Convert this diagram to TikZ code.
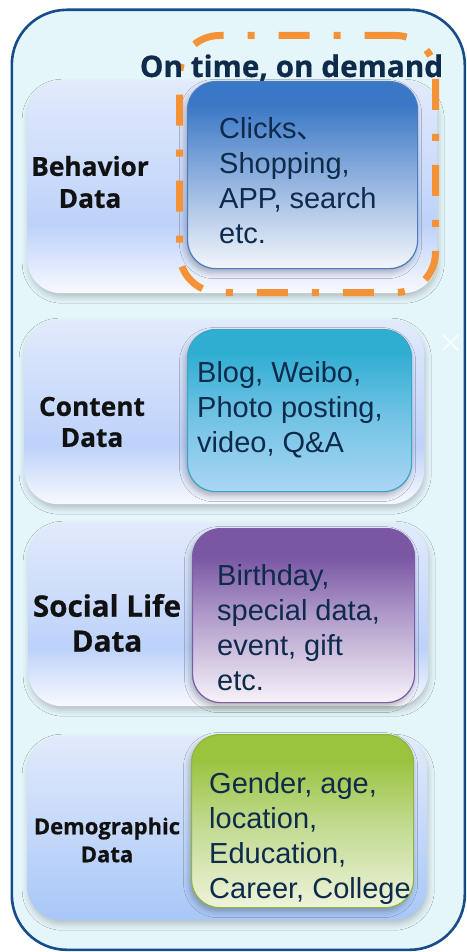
\documentclass[tikz,border=0pt]{standalone}
\usepackage{fontspec}
\setmainfont{Liberation Sans}
\newfontfamily\lblfont{Open Sans}[BoldFeatures={FakeBold=0.6}]
\newfontfamily\cjkfont{Noto Sans CJK SC}
\usetikzlibrary{shadows.blur}
\definecolor{frameFill}{HTML}{E5F6FA}
\definecolor{frameLine}{HTML}{174C8A}
\definecolor{pTop}{HTML}{E2EAFC}
\definecolor{pMid}{HTML}{BDD2FA}
\definecolor{pBot}{HTML}{F8F9FE}
\definecolor{dBot}{HTML}{A8C7F7}
\definecolor{bTop}{HTML}{3A77C6}
\definecolor{bMid}{HTML}{8DAFDD}
\definecolor{bBot}{HTML}{F3F6FB}
\definecolor{bLine}{HTML}{4B7DC0}
\definecolor{cTop}{HTML}{2FAED2}
\definecolor{cMid}{HTML}{6CC1E3}
\definecolor{cBot}{HTML}{ABD6F4}
\definecolor{cLine}{HTML}{3CA5C4}
\definecolor{sTop}{HTML}{7A56A3}
\definecolor{sMid}{HTML}{B09BCA}
\definecolor{sBot}{HTML}{F7F3F9}
\definecolor{sLine}{HTML}{7C5CA4}
\definecolor{gTop}{HTML}{9AC33E}
\definecolor{gMid}{HTML}{BFD98C}
\definecolor{gBot}{HTML}{EEF3DB}
\definecolor{gLine}{HTML}{90B43F}
\definecolor{orangeLine}{HTML}{F39237}
\definecolor{txt}{HTML}{0E2B4C}
\definecolor{lbl}{HTML}{111111}
\pgfdeclareverticalshading{panelshade}{100bp}{color(0bp)=(pBot); color(25bp)=(pBot); color(41bp)=(pMid); color(75bp)=(pTop); color(100bp)=(pTop)}
\pgfdeclareverticalshading{demoshade}{100bp}{color(0bp)=(dBot); color(25bp)=(dBot); color(75bp)=(pTop); color(100bp)=(pTop)}
\pgfdeclareverticalshading{behshade}{100bp}{color(0bp)=(bBot); color(25bp)=(bBot); color(50bp)=(bMid); color(69bp)=(bTop); color(100bp)=(bTop)}
\pgfdeclareverticalshading{conshade}{100bp}{color(0bp)=(cBot); color(25bp)=(cBot); color(50bp)=(cMid); color(68bp)=(cTop); color(100bp)=(cTop)}
\pgfdeclareverticalshading{socshade}{100bp}{color(0bp)=(sBot); color(25bp)=(sBot); color(50bp)=(sMid); color(67bp)=(sTop); color(100bp)=(sTop)}
\pgfdeclareverticalshading{demshade}{100bp}{color(0bp)=(gBot); color(25bp)=(gBot); color(50bp)=(gMid); color(68bp)=(gTop); color(100bp)=(gTop)}
\begin{document}
\begin{tikzpicture}[x=1pt,y=-1pt,
  outerbox/.style={anchor=north west, inner sep=0pt, rounded corners=55pt, fill=frameFill, draw=frameLine, line width=2.6pt},
  panel/.style={anchor=north west, inner sep=0pt, rounded corners=34pt, shading angle=0,
    blur shadow={shadow xshift=1pt, shadow yshift=-4pt, shadow blur radius=6pt, shadow opacity=22}},
  inner/.style={anchor=north west, inner sep=0pt, rounded corners=28pt, shading angle=0, line width=1.2pt,
    blur shadow={shadow xshift=-2pt, shadow yshift=-4pt, shadow blur radius=6pt, shadow opacity=28}},
  itext/.style={anchor=north west, inner sep=0pt, align=left, text=txt, font=\fontsize{29}{35}\selectfont},
  label/.style={inner sep=0pt, align=center, text=lbl},
  focus/.style={anchor=north west, inner sep=0pt, rounded corners=40pt, draw=orangeLine, line width=7pt,
    dash pattern=on 31pt off 24pt on 7pt off 24pt}
]
\useasboundingbox (0,0) rectangle (466,952);
\node[outerbox, minimum width=453pt, minimum height=940pt] (frame) at (10.5,8.5) {};

\node[panel, shading=panelshade, minimum width=410pt, minimum height=212pt] (behP) at (27,81) {};
\node[panel, shading=panelshade, minimum width=400pt, minimum height=184pt] (conP) at (24,320) {};
\node[panel, shading=panelshade, minimum width=400pt, minimum height=183pt] (socP) at (28,523) {};
\node[panel, shading=demoshade, minimum width=400pt, minimum height=184pt] (demP) at (27,736) {};

\node[inner, shading=behshade, draw=bLine, minimum width=230pt, minimum height=187pt] (behI) at (187,81) {};
\node[inner, shading=conshade, draw=cLine, minimum width=224pt, minimum height=162pt] (conI) at (187,329) {};
\node[inner, shading=socshade, draw=sLine, minimum width=222pt, minimum height=174pt] (socI) at (192,528) {};
\node[inner, shading=demshade, draw=gLine, minimum width=222pt, minimum height=173pt] (demI) at (191,734) {};

\node[itext] (behT) at (219,117) {Clicks{\cjkfont 、}\\Shopping,\\APP, search\\etc.};
\node[itext] (conT) at (197,361) {Blog, Weibo,\\Photo posting,\\video, Q\&A};
\node[itext] (socT) at (217,564) {Birthday,\\special data,\\event, gift\\etc.};
\node[itext] (demT) at (209,772) {Gender, age,\\location,\\Education,\\Career, College};

\node[label, font=\lblfont\bfseries\fontsize{26.3}{32}\selectfont] (behL) at (90,182) {Behavior\\Data};
\node[label, font=\lblfont\bfseries\fontsize{26.3}{31}\selectfont] (conL) at (92,422) {Content\\Data};
\node[label, font=\lblfont\bfseries\fontsize{29.6}{35}\selectfont] (socL) at (107,623) {Social Life\\Data};
\node[label, font=\lblfont\bfseries\fontsize{22}{28}\selectfont] (demL) at (107,840) {Demographic\\Data};

\node[focus, minimum width=256pt, minimum height=257pt] (focusbox) at (176,32) {};
\node[inner sep=0pt, anchor=base, text=txt, font=\lblfont\bfseries\fontsize{29.7}{35}\selectfont] (title) at (291.5,77) {On time, on demand};

\draw[white, line width=1.2pt] (443,335) -- (458,350) (443,350) -- (458,335);
\end{tikzpicture}
\end{document}
